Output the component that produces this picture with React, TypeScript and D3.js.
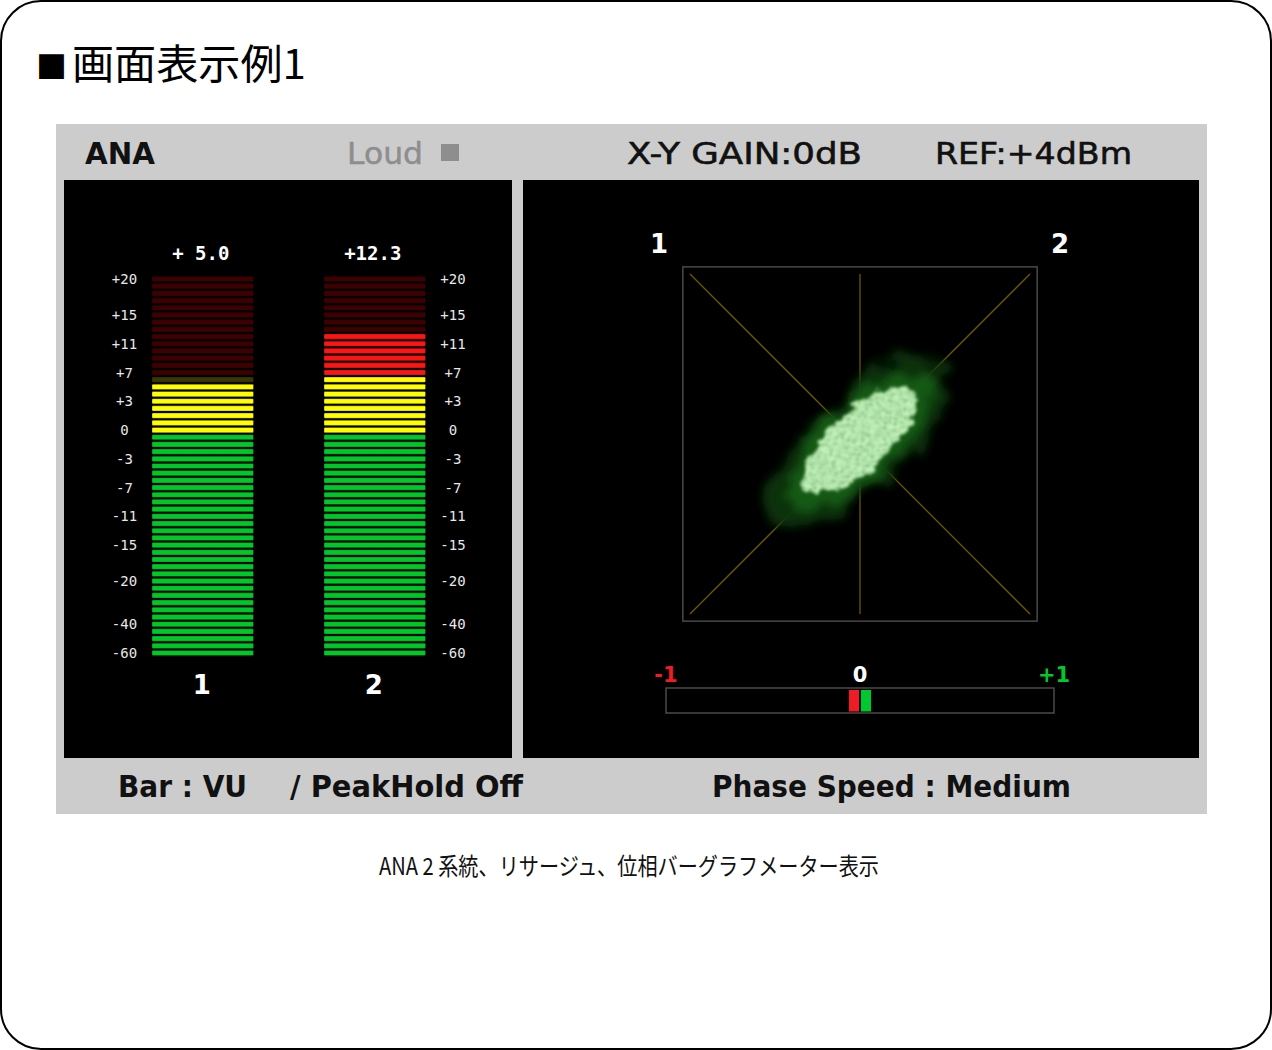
import React from 'react';
import * as d3 from 'd3';

// --- level meters ---
const meterChannels = ['1', '2'];
const meterReadings = [5.0, 12.3];
const meterReadingLabels = ['+ 5.0', '+12.3'];
const segmentCount = 53;
const scaleLabels = ['+20', '+15', '+11', '+7', '+3', '0', '-3', '-7', '-11', '-15', '-20', '-40', '-60'];
const scaleDb = [20, 15, 11, 7, 3, 0, -3, -7, -11, -15, -20, -40, -60];
const scaleSegments = [0, 5, 9, 13, 17, 21, 25, 29, 33, 37, 42, 48, 52];
const zoneNames = ['over', 'warn', 'normal'];
const zoneSegmentCounts = [14, 8, 31];

// --- X-Y (lissajous) ---
const xyChannelLabels = ['1', '2'];
const cloudCenter = [-0.01, 0.015];
const cloudAngleDeg = 43;
const cloudLayers = ['halo', 'mid', 'core'];
const cloudMajor = [0.68, 0.55, 0.43];
const cloudMinor = [0.29, 0.22, 0.17];

// --- phase bar ---
const phaseTicks = [-1, 0, 1];
const phaseTickLabels = ['-1', '0', '+1'];
const phaseMarkerFrom = [-0.057, 0];
const phaseMarkerTo = [0, 0.057];

const W = 1272;
const H = 1050;

const litColor: Record<string, string> = { over: '#ff1414', warn: '#ffff00', normal: '#00c828' };
const dimColor: Record<string, string> = { over: '#3e0000', warn: '#3a3800', normal: '#003a00' };
const cloudFill: Record<string, string> = { halo: '#073509', mid: '#156016', core: '#c4f4bc' };
const cloudFilter: Record<string, string> = { halo: 'url(#fz-halo)', mid: 'url(#fz-mid)', core: 'url(#fz-core)' };
const cloudOpacity: Record<string, number> = { halo: 0.95, mid: 0.85, core: 1 };

const headFont = '"DejaVu Sans", Verdana, sans-serif';
const monoFont = '"DejaVu Sans Mono", monospace';
const jpFont = '"Noto Sans CJK JP", sans-serif';

export default function App() {
  // meter scales
  const band = d3.scaleBand<string>().domain(meterChannels).range([152, 425.5]).paddingInner(0.41).paddingOuter(0);
  const segY = d3.scaleLinear().domain([0, segmentCount - 1]).range([279, 653]);
  const dbToSeg = d3.scaleLinear().domain(scaleDb).range(scaleSegments);

  const zoneOf = (i: number) => {
    let acc = 0;
    for (let z = 0; z < zoneNames.length; z++) {
      acc += zoneSegmentCounts[z];
      if (i < acc) return zoneNames[z];
    }
    return zoneNames[zoneNames.length - 1];
  };
  const segments = d3.range(segmentCount);

  // xy scales
  const xyX = d3.scaleLinear().domain([-1, 1]).range([690, 1030]);
  const xyY = d3.scaleLinear().domain([-1, 1]).range([614, 274]);
  const unit = xyX(1) - xyX(0);
  const frameR = 1.042;

  // phase scale
  const phaseX = d3.scaleLinear().domain([-1, 1]).range([666, 1054]);
  const phaseColors = ['#ee1c24', '#00c82e'];
  const phaseTickColors = ['#ee1c24', '#ffffff', '#00c82e'];

  return (
    <div style={{ position: 'absolute', left: 0, top: 0 }}>
      <svg width={W} height={H} style={{ display: 'block', background: '#fff' }}>
        <defs>
          <filter id="fz-halo" x="-60%" y="-60%" width="220%" height="220%">
            <feTurbulence type="fractalNoise" baseFrequency="0.035" numOctaves="3" seed="4" result="n" />
            <feDisplacementMap in="SourceGraphic" in2="n" scale="46" xChannelSelector="R" yChannelSelector="G" result="d" />
            <feGaussianBlur in="d" stdDeviation="5" />
          </filter>
          <filter id="fz-mid" x="-60%" y="-60%" width="220%" height="220%">
            <feTurbulence type="fractalNoise" baseFrequency="0.05" numOctaves="3" seed="9" result="n" />
            <feDisplacementMap in="SourceGraphic" in2="n" scale="32" xChannelSelector="R" yChannelSelector="G" result="d" />
            <feGaussianBlur in="d" stdDeviation="4" />
          </filter>
          <filter id="fz-core" x="-60%" y="-60%" width="220%" height="220%">
            <feTurbulence type="fractalNoise" baseFrequency="0.06" numOctaves="3" seed="13" result="n" />
            <feDisplacementMap in="SourceGraphic" in2="n" scale="22" xChannelSelector="R" yChannelSelector="G" result="d" />
            <feTurbulence type="fractalNoise" baseFrequency="0.5" numOctaves="1" seed="21" result="fine" />
            <feColorMatrix in="fine" type="matrix" values="0 0 0 0 0  0 0 0 0 0  0 0 0 0 0  4 0 0 0 -0.9" result="mask" />
            <feComposite in="d" in2="mask" operator="in" result="sp" />
            <feGaussianBlur in="sp" stdDeviation="1.7" />
          </filter>
        </defs>

        {/* page frame */}
        <rect x={1} y={1} width={W - 2} height={H - 2} rx={40} ry={40} fill="#fff" stroke="#000" strokeWidth={2} />

        {/* title */}
        <text x={36} y={78} fontFamily={jpFont} fontSize={31} fill="#000">■</text>
        <text x={72} y={79} fontFamily={jpFont} fontSize={41} fill="#000" textLength={234} lengthAdjust="spacingAndGlyphs">画面表示例1</text>

        {/* device screen */}
        <rect x={56} y={124} width={1151} height={690} fill="#cccccc" />
        <rect x={64} y={180} width={448} height={578} fill="#000" />
        <rect x={523} y={180} width={676} height={578} fill="#000" />

        {/* header */}
        <text x={85} y={164} fontFamily={headFont} fontWeight="bold" fontSize={31} fill="#111" textLength={70} lengthAdjust="spacingAndGlyphs">ANA</text>
        <text x={347} y={164} fontFamily={headFont} fontSize={31} fill="#8e8e8e" stroke="#8e8e8e" strokeWidth={0.5} textLength={76} lengthAdjust="spacingAndGlyphs">Loud</text>
        <rect x={441} y={144} width={18} height={17} fill="#8e8e8e" />
        <text x={627} y={164} fontFamily={headFont} fontSize={31} fill="#111" stroke="#111" strokeWidth={0.6} textLength={235} lengthAdjust="spacingAndGlyphs">X-Y GAIN:0dB</text>
        <text x={935} y={164} fontFamily={headFont} fontSize={31} fill="#111" stroke="#111" strokeWidth={0.6} textLength={197} lengthAdjust="spacingAndGlyphs">REF:+4dBm</text>

        {/* footer */}
        <text x={118} y={797} fontFamily={headFont} fontWeight="bold" fontSize={30} fill="#111" textLength={129} lengthAdjust="spacingAndGlyphs">Bar : VU</text>
        <text x={290} y={797} fontFamily={headFont} fontWeight="bold" fontSize={30} fill="#111" textLength={233} lengthAdjust="spacingAndGlyphs">/ PeakHold Off</text>
        <text x={712} y={797} fontFamily={headFont} fontWeight="bold" fontSize={30} fill="#111" textLength={359} lengthAdjust="spacingAndGlyphs">Phase Speed : Medium</text>

        {/* level meters */}
        {meterChannels.map((ch, ci) => {
          const x0 = band(ch) as number;
          const bw = band.bandwidth();
          const litFrom = Math.round(dbToSeg(meterReadings[ci]));
          return (
            <g key={ch}>
              <text x={x0 + bw / 2 - 2} y={260} textAnchor="middle" fontFamily={monoFont} fontWeight="bold" fontSize={19} fill="#fff" style={{ whiteSpace: 'pre' }}>
                {meterReadingLabels[ci]}
              </text>
              {segments.map((i) => {
                const z = zoneOf(i);
                const lit = i >= litFrom;
                return (
                  <rect key={i} x={x0} y={segY(i) - 2.6} width={bw} height={5.2} rx={1}
                    fill={lit ? litColor[z] : dimColor[z]}
                    stroke="rgba(0,0,0,0.35)" strokeWidth={0.8} />
                );
              })}
              <text x={x0 + bw / 2 - 1} y={694} textAnchor="middle" fontFamily={headFont} fontWeight="bold" fontSize={26} fill="#fff">{ch}</text>
            </g>
          );
        })}
        {scaleLabels.map((lab, k) => {
          const y = segY(scaleSegments[k]) + 5;
          const left = (band(meterChannels[0]) as number) - 27.5;
          const right = (band(meterChannels[1]) as number) + band.bandwidth() + 27.5;
          return (
            <g key={lab}>
              <text x={left} y={y} textAnchor="middle" fontFamily={monoFont} fontSize={14} fill="#e8e8e8">{lab}</text>
              <text x={right} y={y} textAnchor="middle" fontFamily={monoFont} fontSize={14} fill="#e8e8e8">{lab}</text>
            </g>
          );
        })}

        {/* X-Y display */}
        <rect x={xyX(-frameR)} y={xyY(frameR)} width={xyX(frameR) - xyX(-frameR)} height={xyY(-frameR) - xyY(frameR)}
          fill="none" stroke="#484848" strokeWidth={1.5} />
        <g stroke="#6e5800" strokeWidth={1.3}>
          <line x1={xyX(-1)} y1={xyY(1)} x2={xyX(1)} y2={xyY(-1)} />
          <line x1={xyX(-1)} y1={xyY(-1)} x2={xyX(1)} y2={xyY(1)} />
          <line x1={xyX(0)} y1={xyY(-1)} x2={xyX(0)} y2={xyY(1)} />
        </g>
        <g transform={`translate(${xyX(cloudCenter[0])},${xyY(cloudCenter[1])}) rotate(${-cloudAngleDeg})`}>
          {cloudLayers.map((layer, li) => (
            <ellipse key={layer} cx={0} cy={0} rx={cloudMajor[li] * unit} ry={cloudMinor[li] * unit}
              fill={cloudFill[layer]} filter={cloudFilter[layer]} opacity={cloudOpacity[layer]} />
          ))}
        </g>
        <text x={xyX(-1) - 31} y={253} textAnchor="middle" fontFamily={headFont} fontWeight="bold" fontSize={26} fill="#fff">{xyChannelLabels[0]}</text>
        <text x={xyX(1) + 30} y={253} textAnchor="middle" fontFamily={headFont} fontWeight="bold" fontSize={26} fill="#fff">{xyChannelLabels[1]}</text>

        {/* phase bar */}
        <rect x={phaseX(-1)} y={688} width={phaseX(1) - phaseX(-1)} height={25} fill="none" stroke="#4a4a4a" strokeWidth={1.5} />
        {phaseMarkerFrom.map((from, k) => (
          <rect key={k} x={phaseX(from) + (k === 1 ? 0.8 : 0)} y={690} width={phaseX(phaseMarkerTo[k]) - phaseX(from) - 0.8} height={21.5} fill={phaseColors[k]} />
        ))}
        {phaseTicks.map((v, k) => (
          <text key={v} x={phaseX(v)} y={682} textAnchor="middle" fontFamily={headFont} fontWeight="bold" fontSize={21} fill={phaseTickColors[k]}>{phaseTickLabels[k]}</text>
        ))}

        {/* caption */}
        <text x={379} y={875} fontFamily={jpFont} fontSize={24} fill="#111" textLength={500} lengthAdjust="spacingAndGlyphs">ANA 2 系統、リサージュ、位相バーグラフメーター表示</text>
      </svg>
    </div>
  );
}
